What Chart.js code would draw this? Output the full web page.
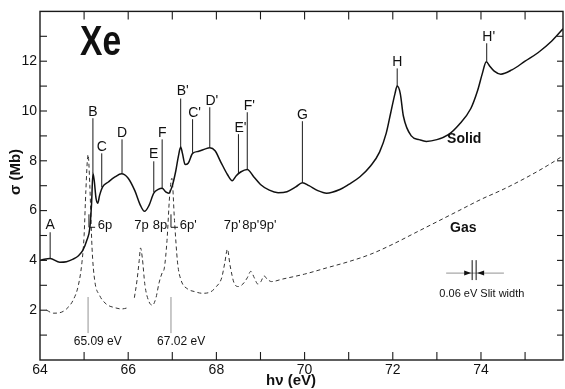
<!DOCTYPE html>
<html>
<head>
<meta charset="utf-8">
<script src="https://cdn.jsdelivr.net/npm/chart.js@4/dist/chart.umd.min.js"></script>
<style>
  html, body { margin: 0; padding: 0; background: #fff; }
  #box { width: 565px; height: 389px; }
</style>
</head>
<body>
<div id="box"><canvas id="grafico"></canvas></div>
<script>
// solid Xe: photon energy (eV) and cross section (Mb)
var energy_solid = [64.0, 64.1, 64.23, 64.45, 64.6, 64.75, 64.88, 64.97, 65.06, 65.13, 65.17, 65.2, 65.23, 65.27, 65.31, 65.35, 65.42, 65.55, 65.7, 65.85, 66.0, 66.15, 66.28, 66.37, 66.47, 66.58, 66.68, 66.77, 66.85, 66.92, 67.0, 67.08, 67.14, 67.19, 67.23, 67.29, 67.36, 67.46, 67.6, 67.75, 67.85, 67.97, 68.1, 68.25, 68.36, 68.45, 68.55, 68.7, 68.85, 69.0, 69.2, 69.4, 69.6, 69.8, 69.95, 70.1, 70.3, 70.5, 70.8, 71.0, 71.25, 71.5, 71.7, 71.85, 71.95, 72.05, 72.1, 72.17, 72.24, 72.42, 72.6, 72.76, 73.0, 73.26, 73.5, 73.77, 73.92, 74.03, 74.12, 74.2, 74.3, 74.45, 74.7, 75.0, 75.3, 75.6, 75.86];
var sigma_solid = [4.0, 4.05, 4.08, 3.93, 3.95, 4.05, 4.2, 4.4, 4.8, 5.3, 6.3, 7.5, 7.2, 6.5, 6.3, 6.6, 6.95, 7.15, 7.35, 7.48, 7.3, 6.8, 6.2, 5.97, 6.2, 6.7, 6.85, 6.9, 6.75, 6.7, 7.0, 7.6, 8.2, 8.55, 8.3, 7.85, 7.9, 8.3, 8.38, 8.48, 8.52, 8.4, 7.95, 7.45, 7.2, 7.4, 7.55, 7.65, 7.35, 7.05, 6.82, 6.72, 6.76, 6.95, 7.12, 7.0, 6.8, 6.7, 6.85, 7.05, 7.35, 7.8, 8.35, 9.1, 9.9, 10.7, 11.0, 10.7, 9.8, 9.0, 8.85, 8.78, 8.85, 9.05, 9.45, 10.1, 10.8, 11.5, 11.98, 11.8, 11.6, 11.48, 11.65, 12.0, 12.35, 12.8, 13.3];

// gas Xe, dashed curve (null = gap in the trace)
var energy_gas = [64.15, 64.3, 64.45, 64.6, 64.75, 64.87, 64.95, 65.0, 65.04, 65.09, 65.13, 65.18, 65.24, 65.35, 65.5, 65.7, 65.85, 66.0, 66.07, 66.14, 66.2, 66.25, 66.28, 66.32, 66.38, 66.47, 66.55, 66.63, 66.7, 66.77, 66.82, 66.88, 66.94, 66.99, 67.05, 67.12, 67.2, 67.35, 67.5, 67.68, 67.85, 68.0, 68.12, 68.19, 68.25, 68.31, 68.4, 68.5, 68.6, 68.7, 68.78, 68.86, 68.94, 69.01, 69.08, 69.15, 69.25, 69.5, 70.0, 70.5, 71.0, 71.5, 72.0, 72.5, 73.0, 73.5, 74.0, 74.5, 75.0, 75.5, 75.86];
var sigma_gas = [2.0, 1.88, 1.9, 2.05, 2.4, 3.0, 3.9, 5.0, 6.8, 8.25, 7.0, 4.5, 3.2, 2.6, 2.25, 2.1, 2.05, 2.1, null, 2.5, 3.2, 4.0, 4.5, 4.1, 3.0, 2.35, 2.2, 2.5, 3.1, 3.5, 3.7, 4.8, 6.6, 7.3, 5.6, 3.9, 3.2, 2.85, 2.75, 2.68, 2.72, 2.95, 3.3, 3.9, 4.45, 3.8, 3.1, 2.95, 3.05, 3.3, 3.56, 3.3, 3.05, 3.15, 3.38, 3.25, 3.15, 3.25, 3.45, 3.7, 3.95, 4.25, 4.65, 5.1, 5.55, 6.0, 6.45, 6.85, 7.3, 7.8, 8.2];

var x_min = 64;
var x_max = 75.86;
var y_min = 0;
var y_max = 14;

// structure labels on the solid curve: name, energy, label height, line top, line bottom (Mb)
var peak_names = ['A', 'B', 'C', 'D', 'E', 'F', "B'", "C'", "D'", "E'", "F'", 'G', 'H', "H'"];
var peak_x = [64.23, 65.2, 65.4, 65.86, 66.58, 66.77, 67.19, 67.46, 67.85, 68.5, 68.7, 69.95, 72.1, 74.13];
var peak_label_y = [5.42, 9.95, 8.54, 9.1, 8.26, 9.1, 10.79, 9.9, 10.39, 9.3, 10.19, 9.83, 11.95, 12.96];
var peak_line_top = [5.13, 9.71, 8.3, 8.86, 7.98, 8.86, 10.5, 9.67, 10.15, 9.07, 9.95, 9.59, 11.71, 12.72];
var peak_line_bottom = [4.08, 7.5, 6.94, 7.5, 6.74, 6.9, 8.55, 8.32, 8.52, 7.5, 7.65, 7.12, 11.0, 11.98];

// Rydberg labels of the gas lines
var gas_names = ['7p', '8p', "7p'", "8p'", "9p'"];
var gas_x = [66.3, 66.72, 68.36, 68.78, 69.17];

var data_solid = energy_solid.map(function(e, i) { return {x: e, y: sigma_solid[i]}; });
var data_gas = energy_gas.map(function(e, i) { return {x: e, y: sigma_gas[i]}; });

var font_text = '"Liberation Sans", Arial, sans-serif';

function testo(ctx, str, x, y, font, align) {
  ctx.font = font;
  ctx.textAlign = align || 'center';
  ctx.textBaseline = 'middle';
  ctx.fillText(str, x, y);
}

function linea(ctx, x1, y1, x2, y2) {
  ctx.beginPath();
  ctx.moveTo(x1, y1);
  ctx.lineTo(x2, y2);
  ctx.stroke();
}

var extra = {
  id: 'extra',
  afterDraw: function(chart) {
    var ctx = chart.ctx;
    var xs = chart.scales.x;
    var ys = chart.scales.y;
    var a = chart.chartArea;
    var px = function(v) { return xs.getPixelForValue(v); };
    var py = function(v) { return ys.getPixelForValue(v); };

    ctx.save();
    ctx.strokeStyle = '#1a1a1a';
    ctx.fillStyle = '#111';

    // frame
    ctx.lineWidth = 1.4;
    ctx.strokeRect(a.left, a.top, a.right - a.left, a.bottom - a.top);

    // inward ticks
    ctx.lineWidth = 1.1;
    for (var v = Math.ceil(x_min) + 1; v < x_max; v++) {
      linea(ctx, px(v), a.bottom, px(v), a.bottom - 8);
      linea(ctx, px(v), a.top, px(v), a.top + 8);
    }
    for (var w = y_min + 1; w < y_max; w++) {
      linea(ctx, a.left, py(w), a.left + 7, py(w));
      linea(ctx, a.right, py(w), a.right - 6, py(w));
    }

    // axis titles
    testo(ctx, 'hν (eV)', 291, 381, 'bold 15px ' + font_text);
    ctx.save();
    ctx.translate(16, 172);
    ctx.rotate(-Math.PI / 2);
    testo(ctx, 'σ (Mb)', 0, 0, 'bold 15px ' + font_text);
    ctx.restore();

    // Xe, narrow bold
    ctx.save();
    ctx.translate(80, 55);
    ctx.scale(0.8, 1);
    ctx.font = 'bold 42px ' + font_text;
    ctx.textAlign = 'left';
    ctx.textBaseline = 'alphabetic';
    ctx.fillText('Xe', 0, 0);
    ctx.restore();

    // peak labels of the solid
    ctx.lineWidth = 1;
    for (var i = 0; i < peak_names.length; i++) {
      var xx = px(peak_x[i]);
      linea(ctx, xx, py(peak_line_top[i]), xx, py(peak_line_bottom[i]));
      testo(ctx, peak_names[i], xx + (peak_names[i].length > 1 ? 2 : 0), py(peak_label_y[i]), '14px ' + font_text);
    }

    testo(ctx, 'Solid', px(73.62), py(8.86), 'bold 14px ' + font_text);
    testo(ctx, 'Gas', px(73.6), py(5.29), 'bold 14px ' + font_text);

    // gas labels
    for (var j = 0; j < gas_names.length; j++) {
      testo(ctx, gas_names[j], px(gas_x[j]), py(5.42), '13px ' + font_text);
    }
    // brackets 6p and 6p'
    linea(ctx, px(65.11), py(5.85), px(65.11), py(5.33));
    linea(ctx, px(65.11), py(5.33), px(65.25), py(5.33));
    testo(ctx, '6p', px(65.31), py(5.42), '13px ' + font_text, 'left');
    linea(ctx, px(66.97), py(5.85), px(66.97), py(5.33));
    linea(ctx, px(66.97), py(5.33), px(67.13), py(5.33));
    testo(ctx, "6p'", px(67.17), py(5.42), '13px ' + font_text, 'left');

    // line positions of the gas
    ctx.strokeStyle = '#777';
    ctx.lineWidth = 0.8;
    linea(ctx, px(65.09), py(2.53), px(65.09), py(1.08));
    linea(ctx, px(66.97), py(2.53), px(66.97), py(1.08));
    testo(ctx, '65.09 eV', px(65.31), py(0.72), '12px ' + font_text);
    testo(ctx, '67.02 eV', px(67.2), py(0.72), '12px ' + font_text);

    // slit width marker
    var sy = py(3.49);
    linea(ctx, px(73.21), sy, px(74.52), sy);
    ctx.strokeStyle = '#111';
    ctx.lineWidth = 1;
    linea(ctx, px(73.8), py(4.01), px(73.8), py(3.21));
    linea(ctx, px(73.89), py(4.01), px(73.89), py(3.21));
    ctx.beginPath();
    ctx.moveTo(px(73.8) - 1, sy);
    ctx.lineTo(px(73.8) - 8, sy - 2.5);
    ctx.lineTo(px(73.8) - 8, sy + 2.5);
    ctx.closePath();
    ctx.fill();
    ctx.beginPath();
    ctx.moveTo(px(73.89) + 1, sy);
    ctx.lineTo(px(73.89) + 8, sy - 2.5);
    ctx.lineTo(px(73.89) + 8, sy + 2.5);
    ctx.closePath();
    ctx.fill();
    testo(ctx, '0.06 eV Slit width', px(74.02), py(2.65), '11px ' + font_text);

    ctx.restore();
  }
};

var grafico = new Chart(document.getElementById('grafico'), {
  type: 'line',
  data: {
    datasets: [{
      label: 'Solid',
      data: data_solid,
      borderColor: '#111',
      borderWidth: 1.5,
      pointRadius: 0,
      cubicInterpolationMode: 'monotone',
      fill: false
    }, {
      label: 'Gas',
      data: data_gas,
      borderColor: '#333',
      borderWidth: 1,
      borderDash: [4, 3],
      pointRadius: 0,
      cubicInterpolationMode: 'monotone',
      spanGaps: false,
      fill: false
    }]
  },
  options: {
    responsive: true,
    maintainAspectRatio: false,
    animation: false,
    layout: { padding: { top: 11, right: 1, left: 0, bottom: 0 } },
    plugins: { legend: { display: false }, tooltip: { enabled: false } },
    scales: {
      x: {
        type: 'linear',
        min: x_min,
        max: x_max,
        grid: { display: false, drawTicks: false },
        border: { display: false },
        ticks: {
          stepSize: 1,
          padding: 2,
          color: '#111',
          font: { family: font_text, size: 14 },
          maxRotation: 0,
          autoSkip: false,
          callback: function(v) { return (v % 2 === 0) ? v : ''; }
        },
        afterFit: function(s) { s.height = 29; }
      },
      y: {
        min: y_min,
        max: y_max,
        grid: { display: false, drawTicks: false },
        border: { display: false },
        ticks: {
          stepSize: 1,
          padding: 3,
          color: '#111',
          font: { family: font_text, size: 14 },
          callback: function(v) { return (v % 2 === 0 && v > y_min && v < y_max) ? v : ''; }
        },
        afterFit: function(s) { s.width = 40; }
      }
    }
  },
  plugins: [extra]
});
</script>
</body>
</html>
